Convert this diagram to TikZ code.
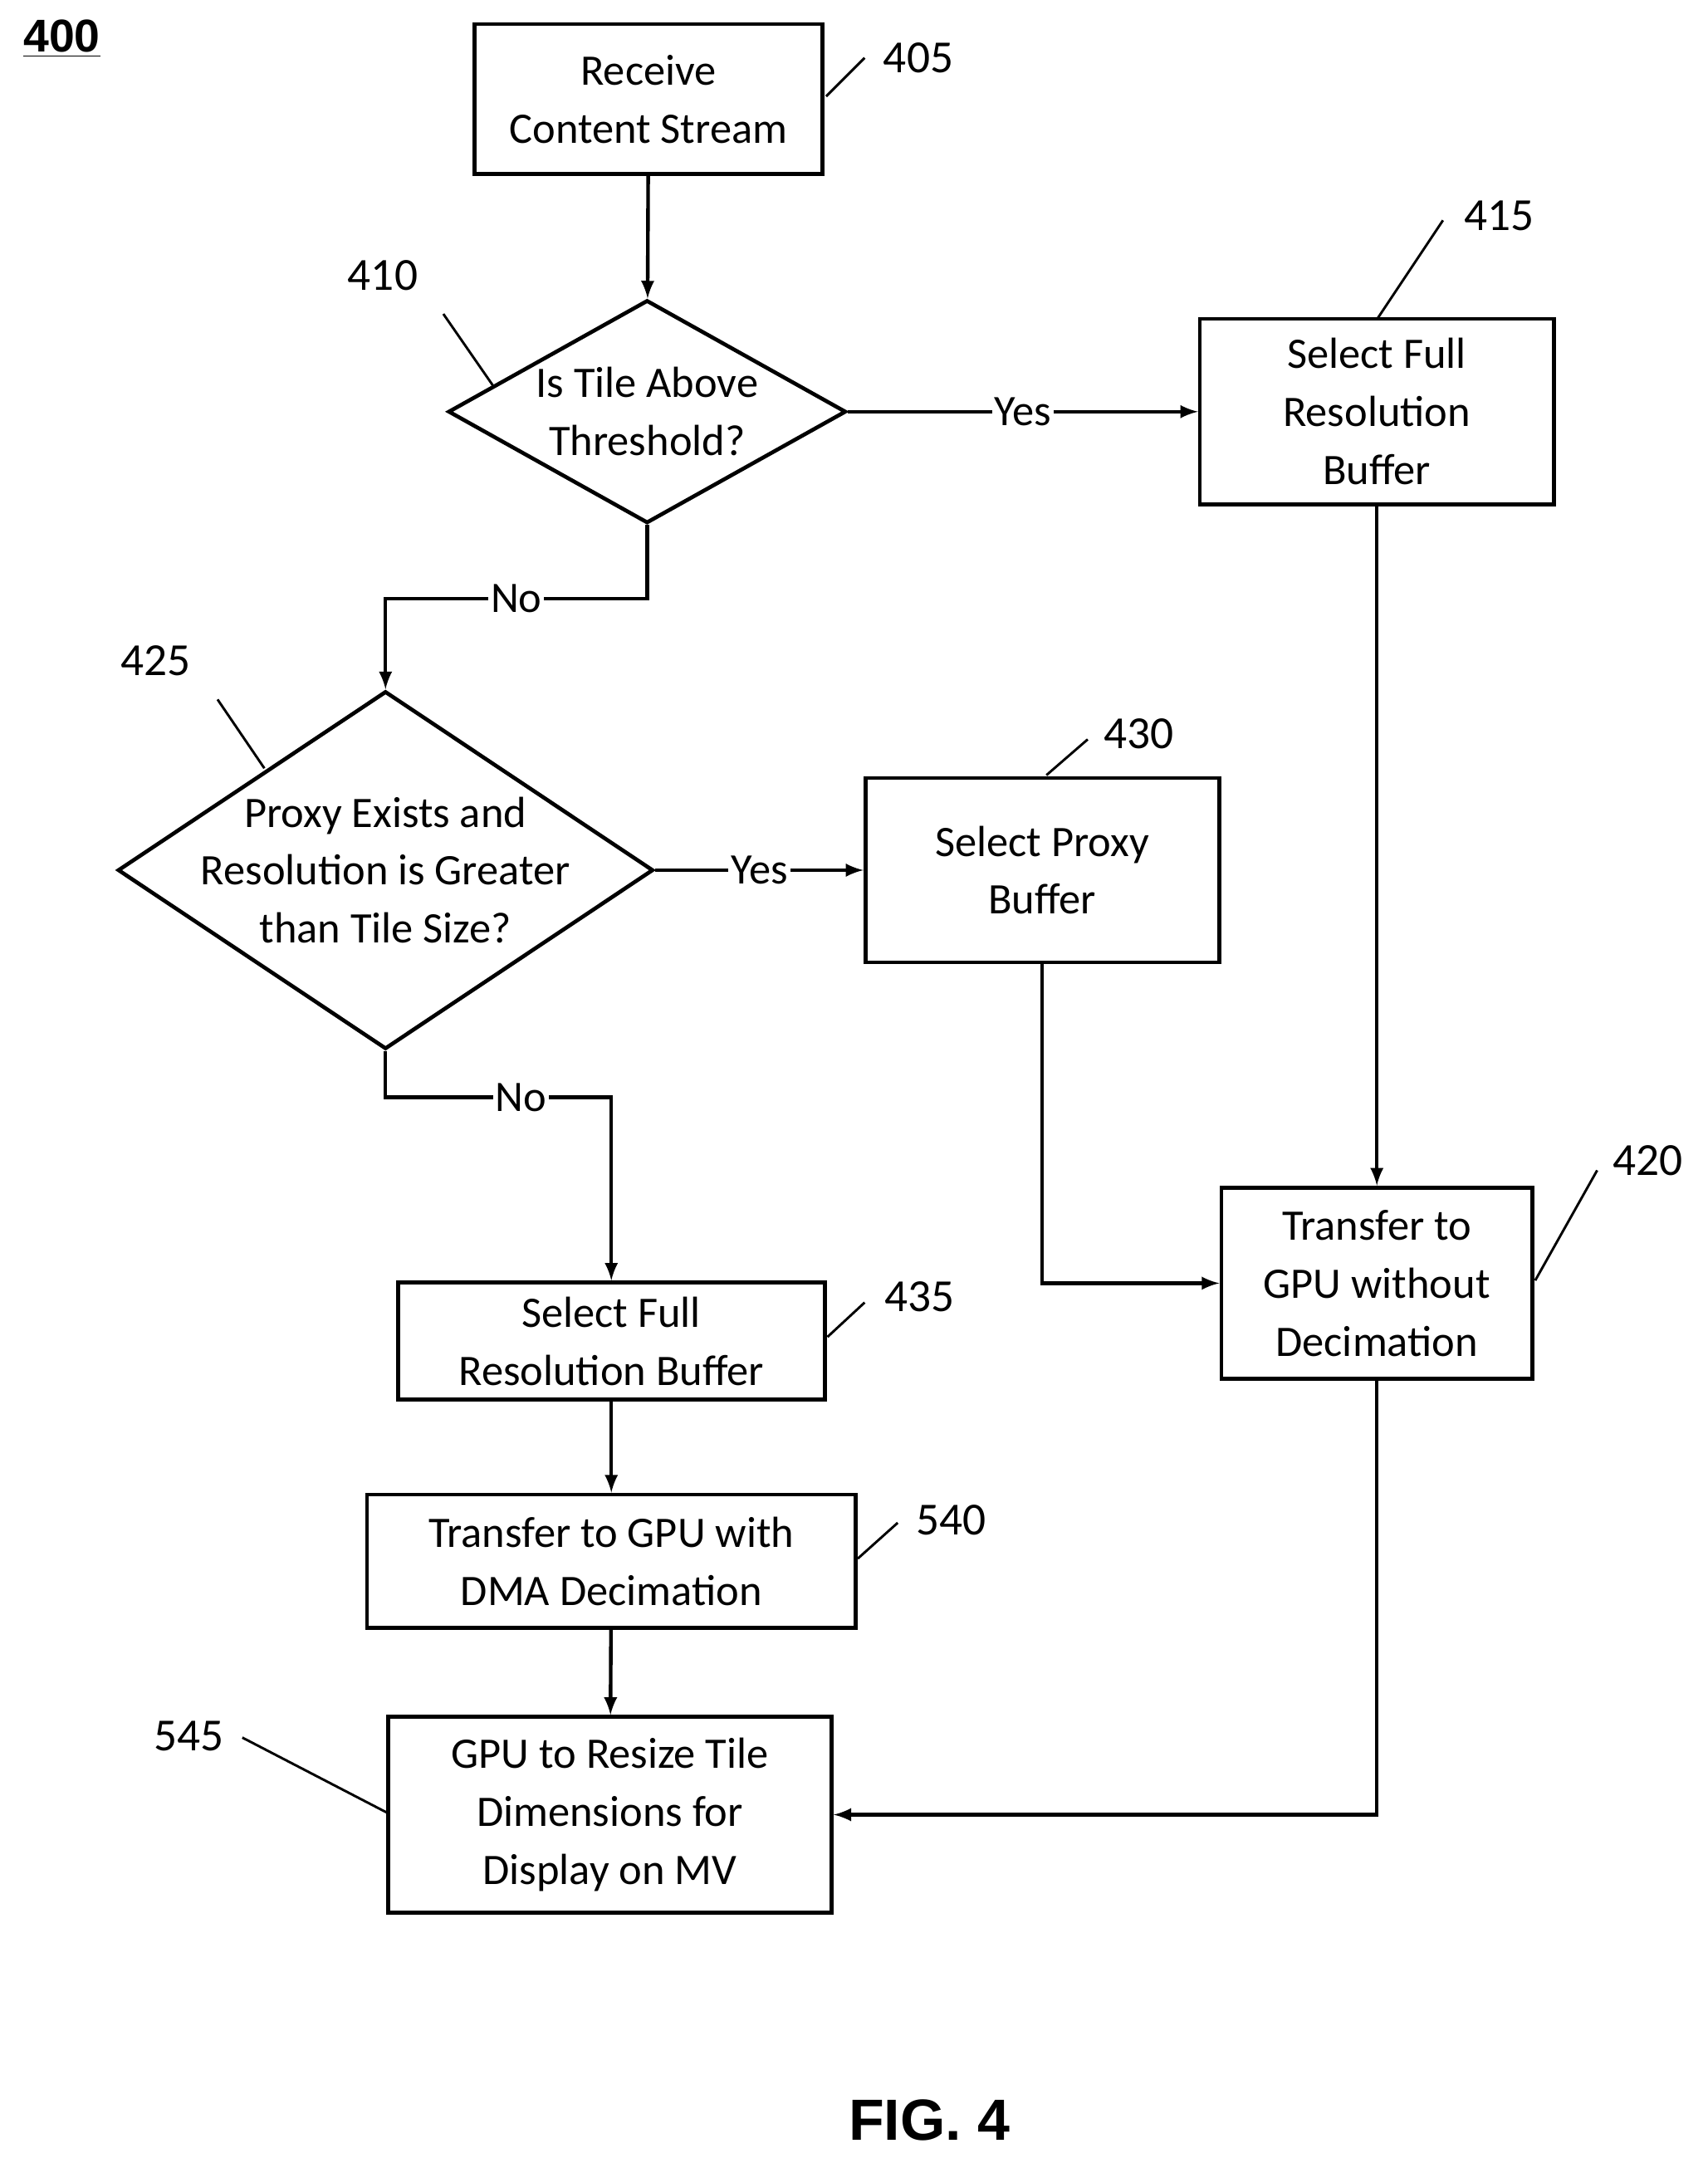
\documentclass[tikz,border=0pt]{standalone}
\usepackage{fontspec}
\setmainfont{Carlito}
\newfontfamily\figfont{Liberation Sans}
\usetikzlibrary{shapes.geometric,arrows}
\tikzstyle{process} = [rectangle, draw = black, line width=1.6pt, align=center, inner sep=0pt]
\tikzstyle{decision} = [diamond, draw = black, line width=1.6pt, align=center, inner sep=0pt]
\tikzstyle{arrow} = [line width=1.5pt,-latex]
\tikzstyle{refnum} = [font=\fontsize{19}{22}\selectfont]
\tikzstyle{lead} = [line width=1pt]
\tikzstyle{lbl} = [fill=white, inner sep=1pt]

\begin{document}
\begin{tikzpicture}[x=0.02cm, y=-0.02cm, font=\fontsize{18}{24}\selectfont]
\useasboundingbox (0,0) rectangle (1240,1571);

\node(receive) [process, minimum width=5.06cm, minimum height=2.18cm] at (471,72) {Receive\\Content Stream};
\node(tileAbove) [decision, minimum width=5.78cm, minimum height=3.24cm] at (470,299) {};
\node at (470,299) [align=center] {Is Tile Above\\Threshold?};
\node(fullRes) [process, minimum width=5.14cm, minimum height=2.7cm] at (1000,299) {Select Full\\Resolution\\Buffer};
\node(proxyExists) [decision, minimum width=7.78cm, minimum height=5.2cm] at (280,632) {};
\node at (280,632) [align=center] {Proxy Exists and\\Resolution is Greater\\than Tile Size?};
\node(proxyBuf) [process, minimum width=5.14cm, minimum height=2.68cm] at (757,632) {Select Proxy\\Buffer};
\node(noDecim) [process, minimum width=4.52cm, minimum height=2.78cm] at (1000,932) {Transfer to\\GPU without\\Decimation};
\node(fullResTwo) [process, minimum width=6.2cm, minimum height=1.7cm] at (444,974) {Select Full\\Resolution Buffer};
\node(dmaDecim) [process, minimum width=7.1cm, minimum height=1.94cm] at (444,1134) {Transfer to GPU with\\DMA Decimation};
\node(resize) [process, minimum width=6.44cm, minimum height=2.84cm] at (443,1318) {GPU to Resize Tile\\Dimensions for\\Display on MV};

% labels
\node at (45,28) {\figfont\bfseries\fontsize{19}{22}\selectfont\underline{400}};
\node at (675,1540) {\figfont\bfseries\fontsize{24}{28}\selectfont FIG. 4};
\node[refnum] at (667,42) {405};
\node[refnum] at (1089,157) {415};
\node[refnum] at (278,200) {410};
\node[refnum] at (113,480) {425};
\node[refnum] at (827,533) {430};
\node[refnum] at (1197,843) {420};
\node[refnum] at (668,942) {435};
\node[refnum] at (691,1104) {540};
\node[refnum] at (137,1261) {545};
\draw[lead] (600,70) -- (628,42);
\draw[lead] (1000,232) -- (1048,160);
\draw[lead] (322,228) -- (358,280);
\draw[lead] (158,508) -- (192,558);
\draw[lead] (760,563) -- (790,537);
\draw[lead] (1115,930) -- (1160,850);
\draw[lead] (601,971) -- (628,946);
\draw[lead] (623,1132) -- (652,1106);
\draw[lead] (176,1262) -- (282,1317);

% connectors
\draw [arrow] (receive) -- (tileAbove);
\draw [arrow] (tileAbove.east) -- node[lbl]{Yes} (fullRes.west);
\draw [arrow] (tileAbove.south) |- node[lbl, pos=0.75]{No} (280,435) -- (proxyExists.north);
\draw [arrow] (proxyExists.east) -- node[lbl]{Yes} (proxyBuf.west);
\draw [arrow] (proxyExists.south) |- node[lbl, pos=0.8]{No} (444,797) -- (fullResTwo.north);
\draw [arrow] (proxyBuf.south) |- (noDecim.west);
\draw [arrow] (fullRes.south) -- (noDecim.north);
\draw [arrow] (fullResTwo) -- (dmaDecim);
\draw [arrow] (dmaDecim) -- (resize);
\draw [arrow] (noDecim.south) |- (resize.east);

\end{tikzpicture}
\end{document}
